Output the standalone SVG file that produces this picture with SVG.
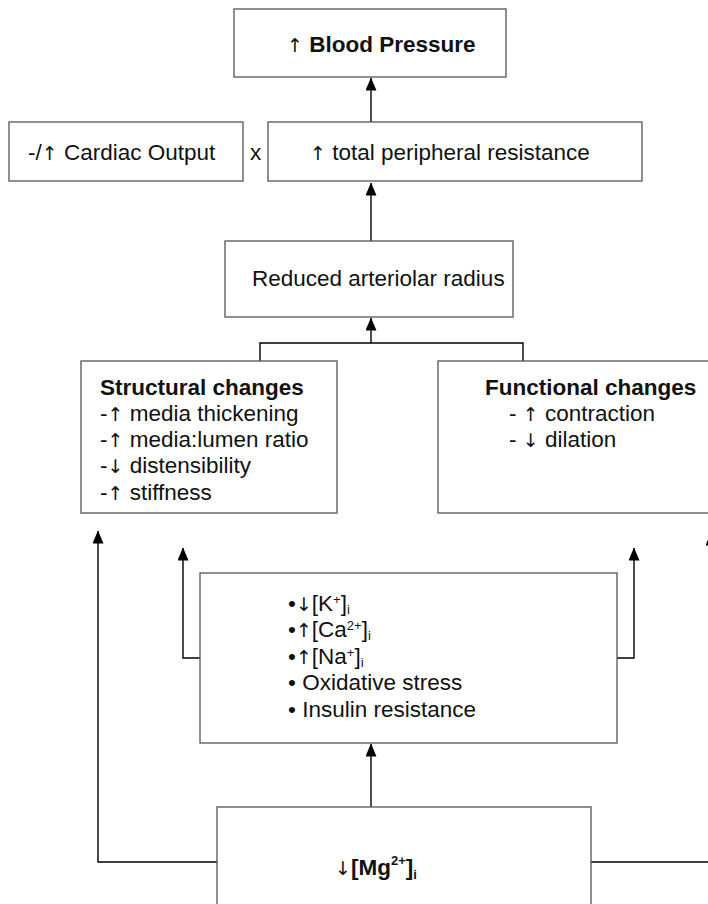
<svg xmlns="http://www.w3.org/2000/svg" width="708" height="904" viewBox="0 0 708 904">
<style>
  .box { fill: #ffffff; stroke: #555555; stroke-width: 1.3; }
  .con { fill: none; stroke: #000000; stroke-width: 1.4; }
  .t { font-family: "Liberation Sans", "DejaVu Sans", Arial, sans-serif; font-size: 22.5px; fill: #111111; }
  .b { font-weight: bold; }
  .sm { font-size: 13px; }
  .ar { font-family: "DejaVu Sans", sans-serif; font-size: 19px; font-weight: normal; }
</style>
<defs>
  <marker id="arr" markerUnits="userSpaceOnUse" markerWidth="13" markerHeight="11" viewBox="0 0 13 11" refX="12.5" refY="5.5" orient="auto">
    <path d="M0 0 L13 5.5 L0 11 Z" fill="#000000"/>
  </marker>
</defs>
<rect width="708" height="904" fill="#ffffff"/>
<g id="connectors">
  <line class="con" x1="371" y1="122" x2="371" y2="78" marker-end="url(#arr)"/>
  <line class="con" x1="371" y1="241" x2="371" y2="183" marker-end="url(#arr)"/>
  <line class="con" x1="371" y1="343" x2="371" y2="318" marker-end="url(#arr)"/>
  <polyline class="con" points="260,361 260,343 523,343 523,361"/>
  <polyline class="con" points="200,658 183,658 183,548" marker-end="url(#arr)"/>
  <polyline class="con" points="617,658 634,658 634,548" marker-end="url(#arr)"/>
  <line class="con" x1="371" y1="807" x2="371" y2="744" marker-end="url(#arr)"/>
  <polyline class="con" points="217,862 98,862 98,531" marker-end="url(#arr)"/>
  <polyline class="con" points="591,862 711,862 711,533" marker-end="url(#arr)"/>
</g>
<g id="blood-pressure">
  <rect class="box" x="234" y="9" width="272" height="68"/>
  <text class="t b" x="287" y="52" font-size="23"><tspan class="ar">↑</tspan> Blood Pressure</text>
</g>
<g id="cardiac-output">
  <rect class="box" x="9" y="122" width="234" height="59"/>
  <text class="t" x="28" y="160">-/<tspan class="ar">↑</tspan> Cardiac Output</text>
</g>
<text class="t" x="250" y="160">x</text>
<g id="tpr">
  <rect class="box" x="268" y="122" width="374" height="59"/>
  <text class="t" x="310" y="160"><tspan class="ar">↑</tspan> total peripheral resistance</text>
</g>
<g id="arteriolar-radius">
  <rect class="box" x="225" y="241" width="288" height="76"/>
  <text class="t" x="252" y="286">Reduced arteriolar radius</text>
</g>
<g id="structural">
  <rect class="box" x="81" y="361" width="256" height="152"/>
  <text class="t b" x="100" y="395">Structural changes</text>
  <text class="t" x="100" y="421">-<tspan class="ar">↑</tspan> media thickening</text>
  <text class="t" x="100" y="447">-<tspan class="ar">↑</tspan> media:lumen ratio</text>
  <text class="t" x="100" y="473">-<tspan class="ar">↓</tspan> distensibility</text>
  <text class="t" x="100" y="500">-<tspan class="ar">↑</tspan> stiffness</text>
</g>
<g id="functional">
  <rect class="box" x="438" y="361" width="280" height="152"/>
  <text class="t b" x="485" y="395">Functional changes</text>
  <text class="t" x="509" y="421">- <tspan class="ar">↑</tspan> contraction</text>
  <text class="t" x="509" y="447">- <tspan class="ar">↓</tspan> dilation</text>
</g>
<g id="ions">
  <rect class="box" x="200" y="573" width="417" height="170"/>
  <text class="t" x="288" y="611">•<tspan class="ar">↓</tspan>[K<tspan class="sm" dy="-7">+</tspan><tspan dy="7">]</tspan><tspan class="sm" dy="3">i</tspan></text>
  <text class="t" x="288" y="637">•<tspan class="ar">↑</tspan>[Ca<tspan class="sm" dy="-7">2+</tspan><tspan dy="7">]</tspan><tspan class="sm" dy="3">i</tspan></text>
  <text class="t" x="288" y="664">•<tspan class="ar">↑</tspan>[Na<tspan class="sm" dy="-7">+</tspan><tspan dy="7">]</tspan><tspan class="sm" dy="3">i</tspan></text>
  <text class="t" x="288" y="690">• Oxidative stress</text>
  <text class="t" x="288" y="717">• Insulin resistance</text>
</g>
<g id="magnesium">
  <rect class="box" x="217" y="807" width="374" height="110"/>
  <text class="t b" x="335" y="875" font-size="26"><tspan class="ar" font-size="22">↓</tspan>[Mg<tspan class="sm" font-size="16" dy="-10">2+</tspan><tspan dy="10">]</tspan><tspan class="sm" font-size="16" dy="4">i</tspan></text>
</g>
</svg>
